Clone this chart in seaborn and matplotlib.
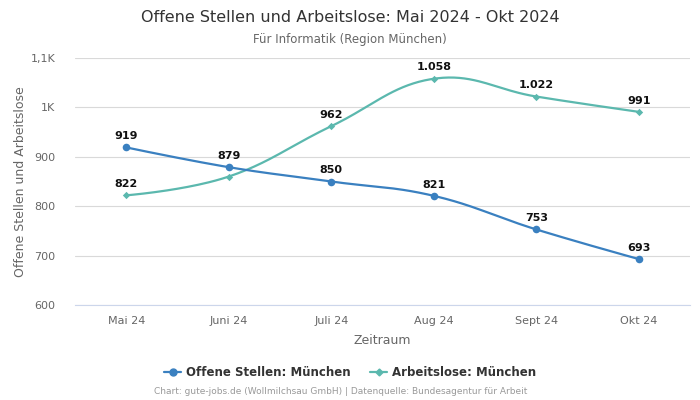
import numpy as np
import pandas as pd
import matplotlib
matplotlib.use("Agg")
import matplotlib.pyplot as plt
import seaborn as sns
from matplotlib.ticker import FuncFormatter
from matplotlib.lines import Line2D

months = ["Mai 24", "Juni 24", "Juli 24", "Aug 24", "Sept 24", "Okt 24"]
offene = [919, 879, 850, 821, 753, 693]
arbeitslose = [822, 860, 962, 1058, 1022, 991]
yticks = [600, 700, 800, 900, 1000, 1100]
series_names = ["Offene Stellen: München", "Arbeitslose: München"]

BLUE = "#3a80c0"
TEAL = "#5bb8ae"

sns.set_theme(style="white")
plt.rcParams['font.family'] = ['DejaVu Sans']

df = pd.DataFrame({
    "Zeitraum": months * 2,
    "Wert": offene + arbeitslose,
    "Serie": [series_names[0]] * len(months) + [series_names[1]] * len(months),
})

fig = plt.figure(figsize=(7, 4), dpi=100)
ax = fig.add_axes([75 / 700, 1 - 305 / 400, 615 / 700, 247 / 400])


def smooth(xs, ys, n=40, s=1.5):
    xs = np.asarray(xs, float)
    ys = np.asarray(ys, float)
    px, py = [], []
    m = len(xs)
    for i in range(m - 1):
        x0, y0, x1, y1 = xs[i], ys[i], xs[i + 1], ys[i + 1]
        if i > 0:
            xp, yp = xs[i - 1], ys[i - 1]
            lx = (s * x0 + xs[i + 1]) / (s + 1)
            ly = (s * y0 + ys[i + 1]) / (s + 1)
            lxp = (s * x0 + xp) / (s + 1)
            lyp = (s * y0 + yp) / (s + 1)
            corr = 0
            if lx != lxp:
                corr = ((ly - lyp) * (lx - x0)) / (lx - lxp) + y0 - ly
            c1x, c1y = lx, ly + corr
        else:
            c1x, c1y = x0, y0
        if i + 2 < m:
            xn = xs[i + 2]
            yn = ys[i + 2]
            rxp = (s * x1 + x0) / (s + 1)
            ryp = (s * y1 + y0) / (s + 1)
            rxn = (s * x1 + xn) / (s + 1)
            ryn = (s * y1 + yn) / (s + 1)
            corr = 0
            if rxn != rxp:
                corr = ((ryn - ryp) * (rxp - x1)) / (rxn - rxp) + y1 - ryp
            c2x, c2y = rxp, ryp + corr
        else:
            c2x, c2y = x1, y1
        t = np.linspace(0, 1, n)
        bx = (1 - t) ** 3 * x0 + 3 * (1 - t) ** 2 * t * c1x + 3 * (1 - t) * t ** 2 * c2x + t ** 3 * x1
        by = (1 - t) ** 3 * y0 + 3 * (1 - t) ** 2 * t * c1y + 3 * (1 - t) * t ** 2 * c2y + t ** 3 * y1
        px.extend(bx)
        py.extend(by)
    return np.array(px), np.array(py)


xpos = np.arange(len(months))
for vals, col in [(arbeitslose, TEAL), (offene, BLUE)]:
    sx, sy = smooth(xpos, vals)
    ax.plot(sx, sy, color=col, lw=1.6, zorder=3, solid_capstyle="round")

sns.scatterplot(data=df[df["Serie"] == series_names[1]], x="Zeitraum", y="Wert",
                marker="D", color=TEAL, s=14, linewidth=0, ax=ax, legend=False, zorder=4)
sns.scatterplot(data=df[df["Serie"] == series_names[0]], x="Zeitraum", y="Wert",
                marker="o", color=BLUE, s=30, linewidth=0, ax=ax, legend=False, zorder=4)

for i, v in enumerate(offene):
    ax.annotate(f"{v}", (i, v), xytext=(0, 4.5), textcoords="offset points",
                ha="center", va="bottom", fontsize=8, fontweight="bold", color="#111111", zorder=5)
for i, v in enumerate(arbeitslose):
    if i == 1:
        continue
    lab = f"{v:,}".replace(",", ".")
    ax.annotate(lab, (i, v), xytext=(0, 4.5), textcoords="offset points",
                ha="center", va="bottom", fontsize=8, fontweight="bold", color="#111111", zorder=5)

ax.set_xlim(-0.5, len(months) - 0.5)
ax.set_ylim(600, 1100)
ax.set_yticks(yticks)


def fmt(v, pos):
    if v >= 1000:
        k = v / 1000
        s = f"{k:g}".replace(".", ",")
        return s + "K"
    return f"{int(v)}"


ax.yaxis.set_major_formatter(FuncFormatter(fmt))
ax.grid(axis="y", color="#d9d9d9", lw=0.8)
ax.grid(axis="x", visible=False)
for sp in ["top", "right", "left"]:
    ax.spines[sp].set_visible(False)
ax.spines["bottom"].set_color("#ccd6eb")
ax.spines["bottom"].set_linewidth(0.8)
ax.tick_params(axis="both", length=0, labelsize=8, colors="#666666", pad=8)
ax.tick_params(axis="y", pad=14)
ax.set_xlabel("Zeitraum", fontsize=9, color="#666666", labelpad=6)
ax.set_ylabel("Offene Stellen und Arbeitslose", fontsize=9, color="#666666", labelpad=3)

fig.text(0.5, 1 - 17 / 400, "Offene Stellen und Arbeitslose: Mai 2024 - Okt 2024",
         ha="center", va="center", fontsize=11.5, color="#333333")
fig.text(0.5, 1 - 39 / 400, "Für Informatik (Region München)",
         ha="center", va="center", fontsize=8.5, color="#666666")

handles = [
    Line2D([0], [0], color=BLUE, lw=1.6, marker="o", markersize=5),
    Line2D([0], [0], color=TEAL, lw=1.6, marker="D", markersize=3.5),
]
fig.legend(handles, series_names, loc="center", bbox_to_anchor=(0.5, 1 - 373 / 400),
           ncol=2, frameon=False, handlelength=1.5, columnspacing=1.6, handletextpad=0.4,
           prop={"weight": "bold", "size": 8.5}, labelcolor="#333333")
fig.text(0.486, 1 - 392 / 400,
         "Chart: gute-jobs.de (Wollmilchsau GmbH) | Datenquelle: Bundesagentur für Arbeit",
         ha="center", va="center", fontsize=6.5, color="#999999")

fig.savefig("out.png", dpi=100)
